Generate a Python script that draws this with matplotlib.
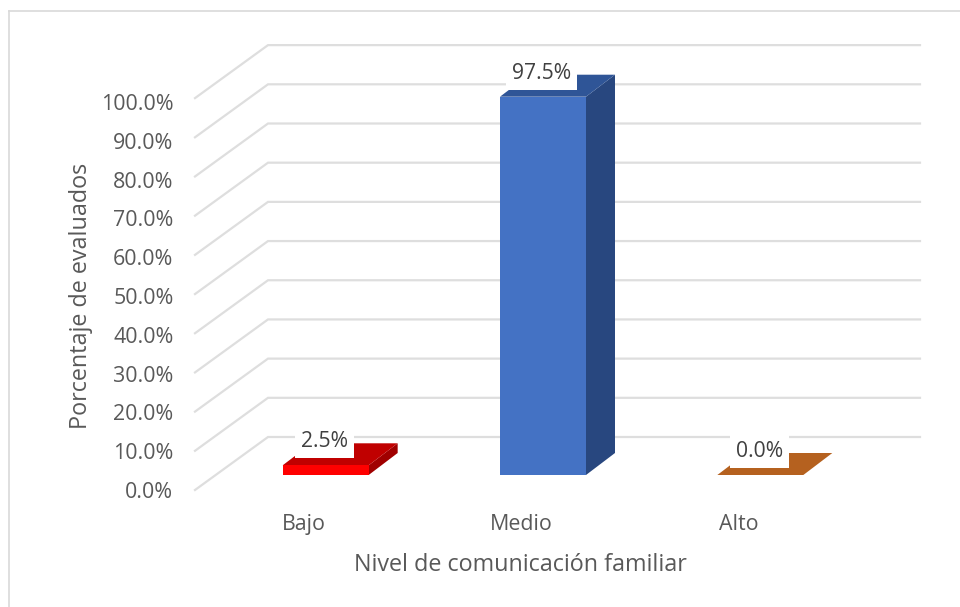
import matplotlib.pyplot as plt
from matplotlib.patches import Polygon, Rectangle
from matplotlib.lines import Line2D

plt.rcParams['font.family'] = ['Open Sans', 'DejaVu Sans']

categorias = ['Bajo', 'Medio', 'Alto']
valores = [2.5, 97.5, 0.0]
etiquetas = ['2.5%', '97.5%', '0.0%']
yticks = [0, 10, 20, 30, 40, 50, 60, 70, 80, 90, 100]
ytick_labels = ['0.0%', '10.0%', '20.0%', '30.0%', '40.0%', '50.0%',
                '60.0%', '70.0%', '80.0%', '90.0%', '100.0%']
c_frente = ['#ff0000', '#4472c4', '#c0651f']
c_arriba = ['#c00000', '#2f5597', '#b5611f']
c_lado = ['#a00000', '#28477f', '#b5611f']

W, H = 960, 607
fig = plt.figure(figsize=(W / 100, H / 100), dpi=100)
# front plane of the fake 3d box, in pixels
L, R, B, T = 195, 847, 490, 102
ax = fig.add_axes([L / W, 1 - B / H, (R - L) / W, (B - T) / H])
ax.set_xlim(-0.5, 2.5)
ax.set_ylim(0, 100)
for s in ax.spines.values():
    s.set_visible(False)
ax.patch.set_visible(False)

# pixels to data units
ux = (R - L) / 3
uy = (B - T) / 100
fondo_x, fondo_y = 73 / ux, 53 / uy
d1x, d1y = 22 / ux, 15 / uy
d2x, d2y = 51 / ux, 37 / uy
ancho = 86 / ux

# walls, the gridlines run a bit wider than the tick labels in the original
gris = '#dedede'
esc = 1.01
for v in yticks:
    ax.plot([-0.5, -0.5 + fondo_x, 2.5 + fondo_x],
            [v * esc, v * esc + fondo_y, v * esc + fondo_y],
            color=gris, lw=1.6, clip_on=False, zorder=1, solid_joinstyle='miter')

# bars
for i, v in enumerate(valores):
    x0 = i - ancho / 2 + d1x
    x1 = i + ancho / 2 + d1x
    y0 = d1y
    y1 = v + d1y
    sx = d2x - d1x
    sy = d2y - d1y
    if v > 0:
        ax.add_patch(Polygon([(x1, y0), (x1 + sx, y0 + sy), (x1 + sx, y1 + sy), (x1, y1)],
                             fc=c_lado[i], ec='none', clip_on=False, zorder=2))
        ax.add_patch(Rectangle((x0, y0), x1 - x0, y1 - y0, fc=c_frente[i], ec='none',
                               clip_on=False, zorder=3))
    ax.add_patch(Polygon([(x0, y1), (x1, y1), (x1 + sx, y1 + sy), (x0 + sx, y1 + sy)],
                         fc=c_arriba[i], ec='none', clip_on=False, zorder=2))
    ax.annotate(etiquetas[i], (i + d1x - 0.005, y1), xytext=(0, 17), textcoords='offset points',
                ha='center', va='center', fontsize=15.2, color='#404040', zorder=5,
                annotation_clip=False,
                bbox=dict(fc='white', ec='none', boxstyle='square,pad=0.28'))

ax.set_xticks(range(3), categorias)
ax.set_yticks(yticks, ytick_labels)
ax.tick_params(length=0, colors='#595959', labelsize=15.4)
ax.tick_params(axis='x', pad=17)
ax.tick_params(axis='y', pad=15.5)
ax.set_xlabel('Nivel de comunicación familiar', fontsize=16.8, color='#595959')
ax.set_ylabel('Porcentaje de evaluados', fontsize=16.8, color='#595959')
ax.xaxis.set_label_coords(520 / W, 1 - 553 / H, transform=fig.transFigure)
ax.yaxis.set_label_coords(93 / W, 1 - 296 / H, transform=fig.transFigure)

# chart frame
for xs, ys in [((8.5, 960), (10.5, 10.5)), ((8.5, 8.5), (10.5, 607))]:
    fig.add_artist(Line2D([x / W for x in xs], [1 - y / H for y in ys], color='#d9d9d9', lw=1.2))

fig.savefig('out.png', dpi=100)
